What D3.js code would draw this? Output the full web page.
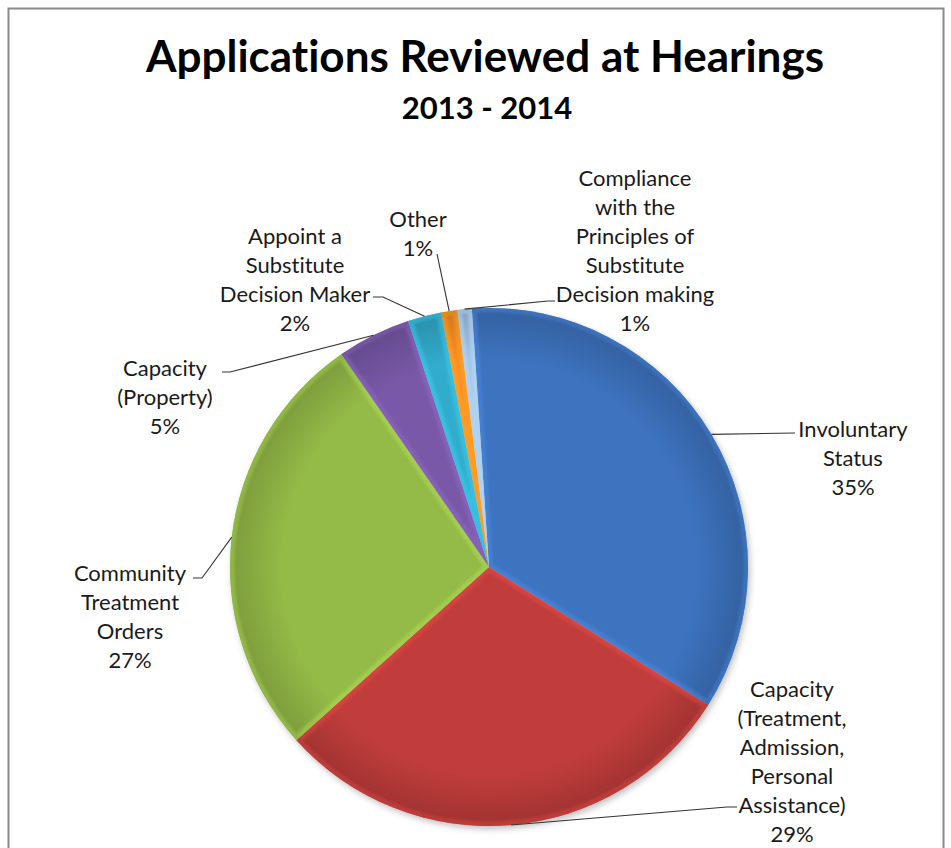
<!DOCTYPE html>
<html>
<head>
<meta charset="utf-8">
<script src="https://cdn.jsdelivr.net/npm/d3@7"></script>
<style>
  body { margin: 0; background: #fff; }
  text { font-family: Lato, "Open Sans", sans-serif; fill: #1a1a1a; font-variant-ligatures: none; }
</style>
</head>
<body>
<figure id="pie" style="margin:0"></figure>
<script>
// chart data
const categories = [
  "Involuntary\nStatus",
  "Capacity\n(Treatment,\nAdmission,\nPersonal\nAssistance)",
  "Community\nTreatment\nOrders",
  "Capacity\n(Property)",
  "Appoint a\nSubstitute\nDecision Maker",
  "Other",
  "Compliance\nwith the\nPrinciples of\nSubstitute\nDecision making"
];
const values = [35.0, 29.4, 27.0, 4.6, 2.1, 1.0, 0.9];
const title = "Applications Reviewed at Hearings";
const subtitle = "2013 - 2014";

// styling / layout
const colors = ["#3a6db5", "#b63a37", "#8cb043", "#72539e", "#30a3c2", "#f0861e", "#97b4db"];
const labelPos = [[853, 428], [792, 688], [130, 572], [165, 367], [295, 235], [418, 218], [635, 177]];
const leaderPts = [
  [[795, 433]],
  [[727, 807], [737, 807]],
  [[202, 578], [193, 578]],
  [[230, 372], [222, 372]],
  [[383, 297], [373, 297]],
  [[437, 254]],
  [[548, 301], [555, 301]]
];
const width = 951, height = 848;
const cx = 489, cy = 567, radius = 259;
const firstAngle = -3.8 * Math.PI / 180;
const lineGap = 29;

const svg = d3.select("figure#pie")
  .append("svg")
  .attr("width", width)
  .attr("height", height);

// frame
svg.append("rect")
  .attr("x", 8.5).attr("y", 8.5)
  .attr("width", 935).attr("height", 900)
  .attr("fill", "none")
  .attr("stroke", "#8a8a8a")
  .attr("stroke-width", 2);

svg.append("text")
  .attr("x", 485).attr("y", 72)
  .attr("text-anchor", "middle")
  .style("font-size", "44px").style("font-weight", "bold")
  .style("fill", "#000")
  .text(title);

svg.append("text")
  .attr("x", 487).attr("y", 119)
  .attr("text-anchor", "middle")
  .style("font-size", "31px").style("font-weight", "bold")
  .style("fill", "#000")
  .text(subtitle);

const defs = svg.append("defs");

// gradients to fake the bevelled look
colors.forEach((c, i) => {
  const g = defs.append("linearGradient")
    .attr("id", "grad" + i)
    .attr("gradientUnits", "userSpaceOnUse")
    .attr("x1", cx - radius * 0.7).attr("y1", cy - radius * 0.7)
    .attr("x2", cx + radius * 0.7).attr("y2", cy + radius * 0.7);
  g.append("stop").attr("offset", "0%").attr("stop-color", d3.color(c).brighter(0.15));
  g.append("stop").attr("offset", "50%").attr("stop-color", c);
  g.append("stop").attr("offset", "100%").attr("stop-color", d3.color(c).darker(0.4));
});

// darkening toward the outer edge
const rad = defs.append("radialGradient")
  .attr("id", "edgeShade")
  .attr("gradientUnits", "userSpaceOnUse")
  .attr("cx", 0).attr("cy", 0).attr("r", radius);
rad.append("stop").attr("offset", "80%").attr("stop-color", "#000").attr("stop-opacity", 0);
rad.append("stop").attr("offset", "97%").attr("stop-color", "#000").attr("stop-opacity", 0.14);
rad.append("stop").attr("offset", "100%").attr("stop-color", "#000").attr("stop-opacity", 0.22);

const blur = defs.append("filter").attr("id", "soft");
blur.append("feGaussianBlur").attr("stdDeviation", 1.6);

const shadow = defs.append("filter").attr("id", "shadow")
  .attr("x", "-10%").attr("y", "-10%").attr("width", "120%").attr("height", "120%");
shadow.append("feDropShadow")
  .attr("dx", 2).attr("dy", 3).attr("stdDeviation", 3)
  .attr("flood-color", "#000").attr("flood-opacity", 0.25);

const pie = d3.pie()
  .sort(null)
  .value(d => d)
  .startAngle(firstAngle)
  .endAngle(firstAngle + 2 * Math.PI);

const arcs = pie(values);
const arc = d3.arc().innerRadius(0).outerRadius(radius);
const edge = d3.arc().innerRadius(radius).outerRadius(radius);

const g = svg.append("g").attr("transform", `translate(${cx},${cy})`);

arcs.forEach((d, i) => {
  defs.append("clipPath").attr("id", "clip" + i)
    .append("path").attr("d", arc(d));
});

const slices = g.append("g").attr("filter", "url(#shadow)");

slices.selectAll("path.slice")
  .data(arcs)
  .enter()
  .append("path")
  .attr("class", "slice")
  .attr("d", arc)
  .attr("fill", (d, i) => `url(#grad${i})`);

// edge shading over the whole pie
g.selectAll("path.shade")
  .data(arcs)
  .enter()
  .append("path")
  .attr("class", "shade")
  .attr("d", arc)
  .attr("fill", "url(#edgeShade)");

// light rim inside each slice
g.selectAll("path.rim")
  .data(arcs)
  .enter()
  .append("path")
  .attr("class", "rim")
  .attr("d", arc)
  .attr("clip-path", (d, i) => `url(#clip${i})`)
  .attr("fill", "none")
  .attr("stroke", (d, i) => d3.color(colors[i]).brighter(0.8))
  .attr("stroke-opacity", 0.4)
  .attr("stroke-width", 9)
  .attr("stroke-linejoin", "round")
  .attr("filter", "url(#soft)");

// leader lines
const line = d3.line();
svg.selectAll("path.leader")
  .data(arcs)
  .enter()
  .append("path")
  .attr("class", "leader")
  .attr("d", (d, i) => {
    const p = edge.centroid(d);
    return line([[p[0] + cx, p[1] + cy]].concat(leaderPts[i]));
  })
  .attr("fill", "none")
  .attr("stroke", "#333")
  .attr("stroke-width", 1.1);

// labels
const fmt = d3.format(".0%");
const labels = svg.selectAll("text.label")
  .data(arcs)
  .enter()
  .append("text")
  .attr("class", "label")
  .attr("text-anchor", "middle")
  .style("font-size", "22px");

labels.each(function(d, i) {
  const lines = categories[i].split("\n").concat(fmt(values[i] / 100));
  d3.select(this).selectAll("tspan")
    .data(lines)
    .enter()
    .append("tspan")
    .attr("x", labelPos[i][0])
    .attr("y", (t, k) => labelPos[i][1] + k * lineGap)
    .attr("dominant-baseline", "central")
    .text(t => t);
});
</script>
</body>
</html>
